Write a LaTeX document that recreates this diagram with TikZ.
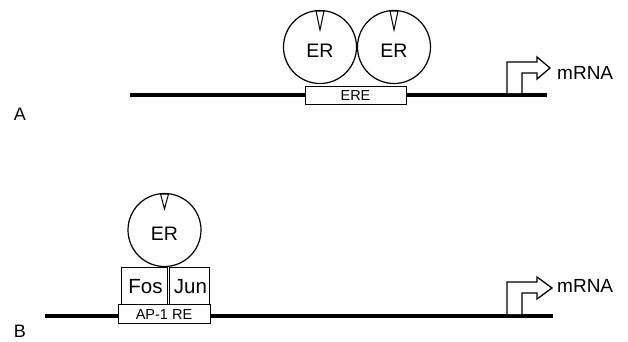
\documentclass[tikz,border=0pt]{standalone}
\usepackage{fontspec}
\setmainfont{Liberation Sans}
\begin{document}
\begin{tikzpicture}[x=1pt,y=-1pt,
  dna/.style={line width=4pt},
  receptor/.style={draw,circle,line width=1.2pt,minimum size=73pt,inner sep=0pt},
  elembox/.style={draw,fill=white,line width=0.9pt,inner sep=0pt},
  protbox/.style={draw,fill=white,line width=1pt,inner sep=0pt},
  notch/.style={draw,fill=white,line width=1pt},
  promoter/.style={draw,fill=white,line width=1.3pt,line join=miter},
  lbl/.style={inner sep=0pt,anchor=base}]
\useasboundingbox (0,0) rectangle (628,341);
% ---------- Panel A ----------
\coordinate (aL) at (130,95);
\coordinate (aR) at (547,95);
\draw[dna] (aL) -- (aR);
\node[elembox,minimum width=101pt,minimum height=18pt] (ere) at (355.5,95) {};
\node[lbl,font=\fontsize{14.5}{15}\selectfont] (eret) at (355.5,100) {ERE};
\node[receptor] (er1) at (320,47) {};
\node[receptor] (er2) at (394,47) {};
\draw[notch] (316,11) -- (324,11) -- (320,30) -- cycle;
\draw[notch] (390,11) -- (398,11) -- (394,30) -- cycle;
\node[lbl,font=\fontsize{19.5}{20}\selectfont] (er1t) at (320,57) {ER};
\node[lbl,font=\fontsize{19.5}{20}\selectfont] (er2t) at (394,57) {ER};
\draw[promoter] (507,93) -- (507,62) -- (537,62) -- (537,57) -- (550,68) -- (537,79) -- (537,73) -- (522,73) -- (522,93);
\node[lbl,anchor=base west,font=\fontsize{19}{20}\selectfont] (mA) at (557,79) {mRNA};
\node[lbl,font=\fontsize{18}{20}\selectfont] (labA) at (20,120) {A};
% ---------- Panel B ----------
\coordinate (bL) at (45,316);
\coordinate (bR) at (553,316);
\draw[dna] (bL) -- (bR);
\node[elembox,minimum width=92pt,minimum height=19pt] (ap1) at (164,313.5) {};
\node[lbl,font=\fontsize{14.5}{15}\selectfont] (ap1t) at (164,319) {AP-1 RE};
\node[protbox,minimum width=46pt,minimum height=37pt] (fos) at (144,285.5) {};
\node[protbox,minimum width=40pt,minimum height=37pt] (jun) at (189,285.5) {};
\node[lbl,font=\fontsize{20.5}{21}\selectfont] (fost) at (145.5,293) {Fos};
\node[lbl,font=\fontsize{20.5}{21}\selectfont] (junt) at (190.5,293) {Jun};
\node[receptor] (er3) at (164.5,230) {};
\draw[notch] (160.5,194) -- (168.5,194) -- (164.5,209) -- cycle;
\node[lbl,font=\fontsize{19.5}{20}\selectfont] (er3t) at (164.5,240) {ER};
\draw[promoter] (507,314) -- (507,282) -- (537,282) -- (537,277) -- (552,288) -- (537,299) -- (537,293) -- (522,293) -- (522,314);
\node[lbl,anchor=base west,font=\fontsize{19}{20}\selectfont] (mB) at (557,292) {mRNA};
\node[lbl,font=\fontsize{18}{20}\selectfont] (labB) at (20,337) {B};
\end{tikzpicture}
\end{document}
